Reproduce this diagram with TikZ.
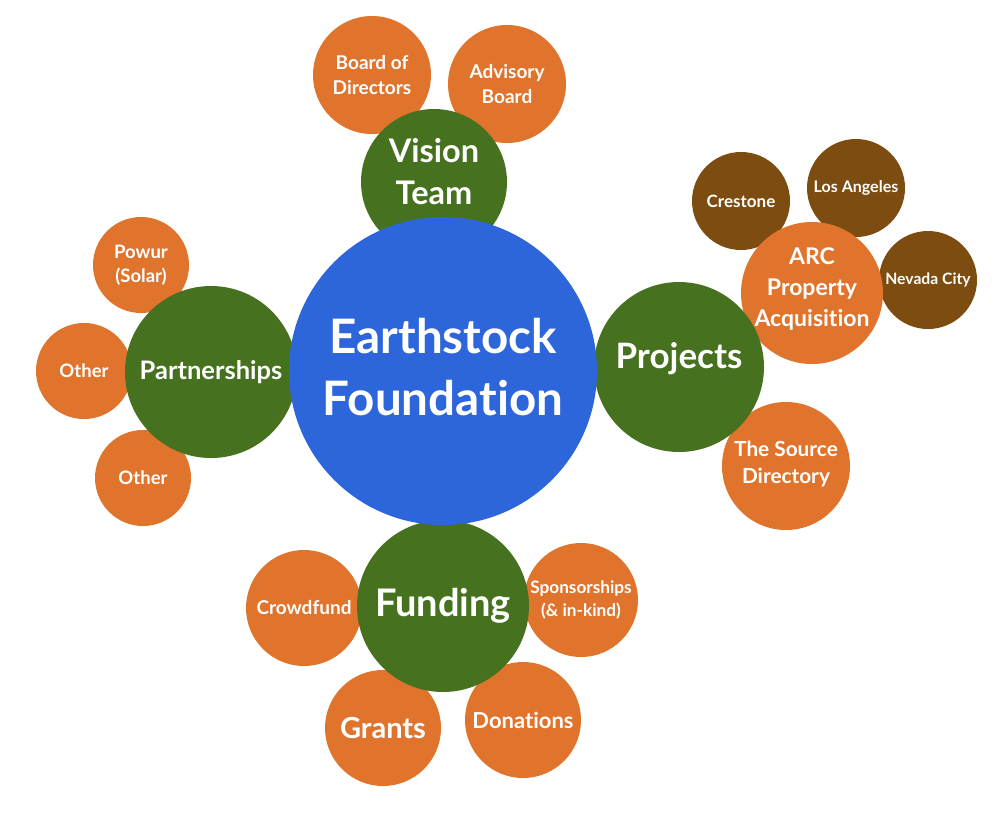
\documentclass[tikz,border=0pt]{standalone}
\usepackage{fontspec}
\setmainfont{Lato}[Ligatures=NoCommon]
\definecolor{corange}{HTML}{E0742C}
\definecolor{cgreen}{HTML}{46711E}
\definecolor{cblue}{HTML}{2D66DB}
\definecolor{cbrown}{HTML}{7D4C10}
\begin{document}
\begin{tikzpicture}[x=1pt,y=-1pt,
  bub/.style={circle,inner sep=0pt},
  org/.style={bub,fill=corange},
  grn/.style={bub,fill=cgreen},
  brn/.style={bub,fill=cbrown},
  blu/.style={bub,fill=cblue},
  txt/.style={inner sep=0pt,text=white,align=center}]
\newcommand{\F}[2]{\bfseries\fontsize{#1}{#2}\selectfont}
\useasboundingbox (0,0) rectangle (1000,814);
% brown
\node[brn,minimum size=98pt] (cre) at (741,201) {};
\node[txt,font=\F{17}{20}] (cret) at (cre) {Crestone};
\node[brn,minimum size=98pt] (la) at (856,188) {};
\node[txt,font=\F{16}{19}] (lat) at (la) {Los Angeles};
\node[brn,minimum size=98pt] (nev) at (928,280) {};
\node[txt,font=\F{15.7}{19}] (nevt) at (nev) {Nevada City};
% orange
\node[org,minimum size=118pt] (bod) at (372,75) {};
\node[txt,font=\F{19}{25.5}] (bodt) at (bod) {Board of\\Directors};
\node[org,minimum size=118pt] (adv) at (507,84) {};
\node[txt,font=\F{19}{25.5}] (advt) at (adv) {Advisory\\Board};
\node[org,minimum size=142pt] (arc) at (812,293) {};
\node[txt,font=\F{23}{31}] (arct) at ([yshift=4pt]arc.center) {ARC\\Property\\Acquisition};
\node[org,minimum size=128pt] (src) at (786,466) {};
\node[txt,font=\F{20.8}{27}] (srct) at ([yshift=2pt]src.center) {The Source\\Directory};
\node[org,minimum size=96pt] (pow) at (141,265) {};
\node[txt,font=\F{18.5}{24}] (powt) at (pow) {Powur\\(Solar)};
\node[org,minimum size=96pt] (oth1) at (84,371) {};
\node[txt,font=\F{18.5}{24}] (oth1t) at (oth1) {Other};
\node[org,minimum size=96pt] (oth2) at (143,478) {};
\node[txt,font=\F{18.5}{24}] (oth2t) at (oth2) {Other};
\node[org,minimum size=116pt] (crowd) at (304,608) {};
\node[txt,font=\F{19}{24}] (crowdt) at (crowd) {Crowdfund};
\node[org,minimum size=114pt] (spon) at (581,600) {};
\node[txt,font=\F{17.2}{22.5}] (spont) at (spon) {Sponsorships\\(\& in-kind)};
\node[org,minimum size=116pt] (grants) at (383,728) {};
\node[txt,font=\F{29}{34}] (grantst) at (grants) {Grants};
\node[org,minimum size=116pt] (don) at (523,720) {};
\node[txt,font=\F{22}{26}] (dont) at (don) {Donations};
% green
\node[grn,minimum size=146pt] (vis) at (434,182) {};
\node[txt,font=\F{32.5}{42}] (vist) at ([yshift=10pt]vis.center) {Vision\\Team};
\node[grn,minimum size=170pt] (proj) at (679,367) {};
\node[txt,font=\F{35}{40}] (projt) at ([yshift=8pt]proj.center) {Projects};
\node[grn,minimum size=172pt] (part) at (211,372) {};
\node[txt,font=\F{25.5}{30}] (partt) at (part) {Partnerships};
\node[grn,minimum size=172pt] (fund) at (443,606) {};
\node[txt,font=\F{38}{44}] (fundt) at (fund) {Funding};
% blue
\node[blu,minimum size=308pt] (ef) at (443,371) {};
\node[txt,font=\F{47.5}{62}] (eft) at ([yshift=4pt]ef.center) {Earthstock\\Foundation};
\end{tikzpicture}
\end{document}
